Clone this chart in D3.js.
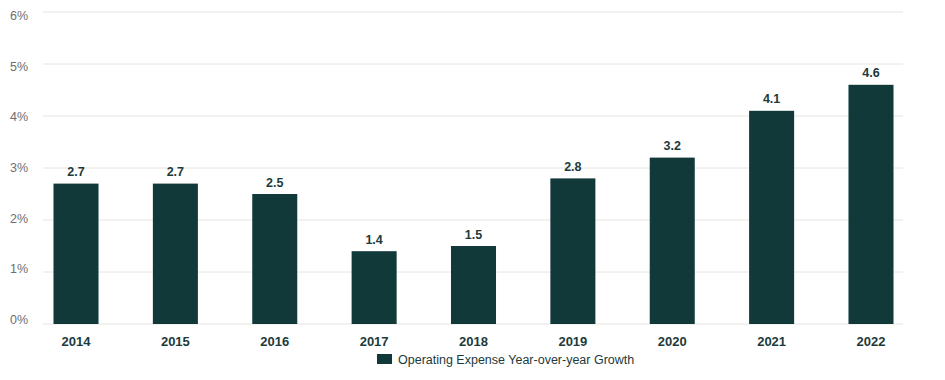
<!DOCTYPE html>
<html><head><meta charset="utf-8">
<script src="https://cdn.jsdelivr.net/npm/d3@7"></script>
<style>
html,body{margin:0;padding:0;background:#fff;}
svg{display:block;font-family:"Liberation Sans",Arial,sans-serif;}
</style></head>
<body><svg id="c" width="945" height="380"></svg>
<script>
const years = ["2014","2015","2016","2017","2018","2019","2020","2021","2022"];
const growth = [2.7, 2.7, 2.5, 1.4, 1.5, 2.8, 3.2, 4.1, 4.6];
const yTicks = [0, 1, 2, 3, 4, 5, 6];
const seriesName = "Operating Expense Year-over-year Growth";

const svg = d3.select("#c");
const dark = "#11393a";
const x = d3.scaleBand().domain(years).range([53.5, 893.5]).paddingInner(0.547).paddingOuter(0);
const y = d3.scaleLinear().domain([0, 6]).range([324, 12]);
const yLab = d3.scaleLinear().domain([0, 6]).range([324, 20]);

// grid
svg.append("g").selectAll("line").data(yTicks).join("line")
  .attr("x1", 43).attr("x2", 903)
  .attr("y1", d => y(d)).attr("y2", d => y(d))
  .attr("stroke", "#e6e4dd").attr("stroke-width", 1);

// y labels
svg.append("g").selectAll("text").data(yTicks).join("text")
  .attr("x", 10).attr("y", d => yLab(d))
  .attr("fill", "#6e6e6e").attr("font-size", 12.5)
  .text(d => d + "%");

// bars
svg.append("g").selectAll("rect").data(growth).join("rect")
  .attr("x", (d, i) => x(years[i]))
  .attr("width", x.bandwidth())
  .attr("y", d => y(d))
  .attr("height", d => y(0) - y(d))
  .attr("fill", dark);

// value labels
svg.append("g").selectAll("text").data(growth).join("text")
  .attr("x", (d, i) => x(years[i]) + x.bandwidth() / 2)
  .attr("y", d => y(d) - 7.5)
  .attr("text-anchor", "middle")
  .attr("fill", "#1d3a3b").attr("font-size", 12.5).attr("font-weight", "bold")
  .text(d => d.toFixed(1));

// x labels
svg.append("g").selectAll("text").data(years).join("text")
  .attr("x", d => x(d) + x.bandwidth() / 2)
  .attr("y", 346)
  .attr("text-anchor", "middle")
  .attr("fill", "#1d3a3b").attr("font-size", 13).attr("font-weight", "bold")
  .text(d => d);

// legend
const lg = svg.append("g");
lg.append("rect").attr("x", 377).attr("y", 354).attr("width", 15).attr("height", 10).attr("fill", dark);
lg.append("text").attr("x", 398).attr("y", 363.5).attr("fill", "#1d3a3b").attr("font-size", 12.5)
  .text(seriesName);
</script></body></html>
